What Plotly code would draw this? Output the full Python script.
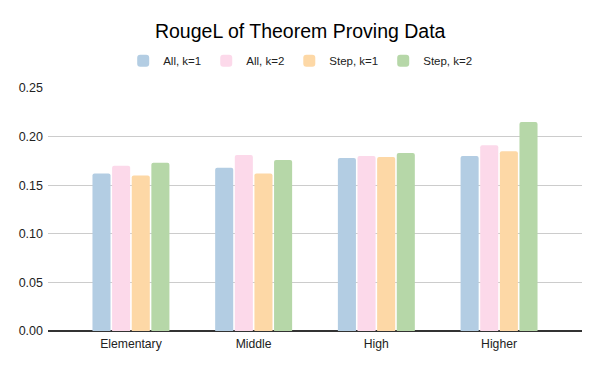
import plotly.graph_objects as go

levels = ["Elementary", "Middle", "High", "Higher"]
series_names = ["All, k=1", "All, k=2", "Step, k=1", "Step, k=2"]
all_k1 = [0.162, 0.168, 0.178, 0.180]
all_k2 = [0.170, 0.181, 0.180, 0.191]
step_k1 = [0.160, 0.162, 0.179, 0.185]
step_k2 = [0.173, 0.176, 0.183, 0.215]
colors = ["#b3cde3", "#fcd9ea", "#fdd8a6", "#b6d7a8"]

fig = go.Figure()
for name, vals, c in zip(series_names, [all_k1, all_k2, step_k1, step_k2], colors):
    fig.add_trace(go.Bar(
        x=levels, y=vals, name=name,
        marker=dict(color=c, line=dict(width=0), cornerradius=2),
    ))

# page body has an 8px margin, so the layout is shifted up/left by 8px
fig.update_layout(
    title=dict(text="RougeL of Theorem Proving Data", x=0.487, xanchor="center",
               y=0.937, yanchor="middle",
               font=dict(family="Liberation Sans, Arial", size=19.5, color="#000")),
    barmode="group",
    bargap=0.36,
    bargroupgap=0.08,
    width=600, height=371,
    margin=dict(l=40, r=26, t=80, b=48),
    plot_bgcolor="white", paper_bgcolor="white",
    font=dict(family="Liberation Sans, Arial", size=12, color="#222"),
    legend=dict(orientation="h", xref="container", x=0.487, xanchor="center",
                yref="container", y=0.858, yanchor="middle",
                font=dict(size=11.5, color="#222"), traceorder="normal"),
    showlegend=True,
)
fig.update_xaxes(range=[-0.676, 3.676], showgrid=False, ticks="", automargin=False,
                 ticklabelstandoff=4, tickfont=dict(size=12.2, color="#222"))
fig.update_yaxes(range=[0, 0.25], dtick=0.05, tickformat=".2f", automargin=False,
                 showgrid=True, gridcolor="#cccccc", gridwidth=1,
                 zeroline=True, zerolinecolor="#333333", zerolinewidth=1.5,
                 showline=False, ticks="", ticklabelstandoff=4,
                 tickfont=dict(size=12.5, color="#222"))

fig.write_html("out.html")
